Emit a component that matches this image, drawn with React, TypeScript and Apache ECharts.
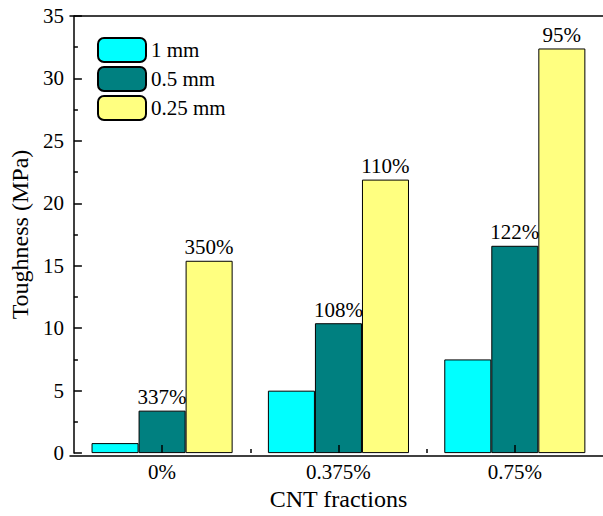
import React, { useEffect, useRef } from "react";
import * as echarts from "echarts";

const categories = ["0%", "0.375%", "0.75%"];
const seriesNames = ["1 mm", "0.5 mm", "0.25 mm"];
const values1mm = [0.8, 5.0, 7.5];
const values05mm = [3.4, 10.4, 16.6];
const values025mm = [15.4, 21.9, 32.4];
const labels05mm = ["337%", "108%", "122%"];
const labels025mm = ["350%", "110%", "95%"];
const yTicks = [0, 5, 10, 15, 20, 25, 30, 35];
// boundaries between category groups, in category units
const groupBoundaries = [1, 2];

const FONT = "Liberation Serif";
const AXIS = { color: "#000", width: 1.5 };

export default function App() {
  const ref = useRef<HTMLDivElement>(null);

  useEffect(() => {
    if (!ref.current) return;
    const chart = echarts.init(ref.current, undefined, { renderer: "svg" });

    const barLabel = (texts: string[] | null) =>
      texts
        ? {
            show: true,
            position: "top" as const,
            distance: 3,
            color: "#000",
            fontFamily: FONT,
            fontSize: 21,
            formatter: (p: any) => texts[p.dataIndex],
          }
        : { show: false };

    const makeSeries = (name: string, data: number[], color: string, texts: string[] | null) => ({
      name,
      type: "bar",
      xAxisIndex: 0,
      yAxisIndex: 0,
      data,
      barGap: "0%",
      barCategoryGap: "20%",
      itemStyle: { color, borderColor: "#000", borderWidth: 1 },
      label: barLabel(texts),
    });

    chart.setOption({
      animation: false,
      backgroundColor: "#fff",
      textStyle: { fontFamily: FONT },
      grid: [
        // plotting area (runs past the right edge of the page)
        { left: 70, top: 16, width: 540, height: 440 },
        // visible frame lines, stopping at the page edge
        { left: 70, top: 16, width: 533, height: 440 },
      ],
      legend: {
        orient: "vertical",
        left: 97,
        top: 37,
        itemWidth: 48,
        itemHeight: 24,
        itemGap: 3,
        padding: 0,
        data: seriesNames,
        textStyle: { fontFamily: FONT, fontSize: 21, color: "#000" },
      },
      xAxis: [
        {
          type: "category",
          gridIndex: 0,
          data: categories,
          position: "bottom",
          z: 5,
          axisLine: { show: false },
          axisTick: { show: true, inside: true, alignWithLabel: true, length: 8, lineStyle: AXIS },
          axisLabel: { fontFamily: FONT, fontSize: 21, color: "#000", margin: 8 },
          name: "CNT fractions",
          nameLocation: "middle",
          nameGap: 32,
          nameTextStyle: { fontFamily: FONT, fontSize: 24, color: "#000" },
        },
        {
          type: "value",
          gridIndex: 0,
          min: 0,
          max: categories.length,
          position: "bottom",
          z: 5,
          axisLine: { show: false },
          axisTick: { show: true, inside: true, length: 4, customValues: groupBoundaries, lineStyle: AXIS },
          axisLabel: { show: false },
          splitLine: { show: false },
        },
        {
          type: "value",
          gridIndex: 1,
          position: "bottom",
          z: 5,
          axisLine: { show: true, lineStyle: AXIS },
          axisTick: { show: false },
          axisLabel: { show: false },
          splitLine: { show: false },
        },
        {
          type: "value",
          gridIndex: 1,
          position: "top",
          z: 5,
          axisLine: { show: true, lineStyle: AXIS },
          axisTick: { show: false },
          axisLabel: { show: false },
          splitLine: { show: false },
        },
      ],
      yAxis: [
        {
          type: "value",
          gridIndex: 0,
          min: yTicks[0],
          max: yTicks[yTicks.length - 1],
          interval: 5,
          z: 5,
          axisLine: { show: true, lineStyle: AXIS },
          axisTick: { show: true, inside: true, length: 8, lineStyle: AXIS },
          minorTick: { show: true, splitNumber: 2, length: 4, lineStyle: AXIS },
          splitLine: { show: false },
          axisLabel: { fontFamily: FONT, fontSize: 21, color: "#000", margin: 10 },
          name: "Toughness (MPa)",
          nameLocation: "middle",
          nameGap: 36,
          nameTextStyle: { fontFamily: FONT, fontSize: 24, color: "#000" },
        },
        {
          type: "value",
          gridIndex: 1,
          show: false,
        },
      ],
      series: [
        makeSeries(seriesNames[0], values1mm, "#00FFFF", null),
        makeSeries(seriesNames[1], values05mm, "#008080", labels05mm),
        makeSeries(seriesNames[2], values025mm, "#FFFF80", labels025mm),
      ],
    });

    return () => chart.dispose();
  }, []);

  return (
    <div style={{ position: "fixed", left: 0, top: 0, width: 603, height: 516, overflow: "hidden" }}>
      <div ref={ref} style={{ width: 603, height: 516 }} />
    </div>
  );
}
